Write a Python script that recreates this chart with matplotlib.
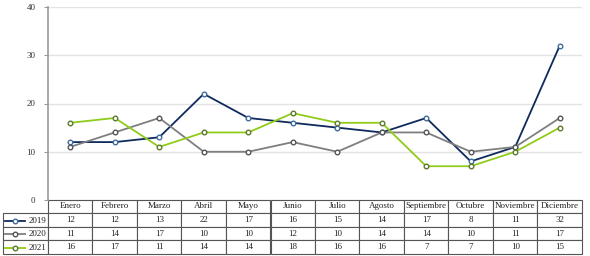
import matplotlib
matplotlib.use("Agg")
import matplotlib.pyplot as plt
from matplotlib.lines import Line2D

months = ["Enero", "Febrero", "Marzo", "Abril", "Mayo", "Junio", "Julio",
          "Agosto", "Septiembre", "Octubre", "Noviembre", "Diciembre"]
years = ["2019", "2020", "2021"]
v2019 = [12, 12, 13, 22, 17, 16, 15, 14, 17, 8, 11, 32]
v2020 = [11, 14, 17, 10, 10, 12, 10, 14, 14, 10, 11, 17]
v2021 = [16, 17, 11, 14, 14, 18, 16, 16, 7, 7, 10, 15]
series = [v2019, v2020, v2021]
colors = ["#0f2a5c", "#7f7f7f", "#8fcc1a"]
edges = ["#3f6b9c", "#555555", "#5d7a2c"]
yticks = [0, 10, 20, 30, 40]

plt.rcParams['font.family'] = ['Liberation Serif', 'DejaVu Serif']

W, H = 590, 256
fig = plt.figure(figsize=(W / 100, H / 100), dpi=100)
L, R, T, B = 48, 582, 7, 200
ax = fig.add_axes([L / W, 1 - B / H, (R - L) / W, (B - T) / H])

x = list(range(len(months)))
for vals, c, e in zip(series, colors, edges):
    ax.plot(x, vals, color=c, lw=1.3, marker='o', ms=3.3, mfc='white',
            mec=e, mew=1.0, zorder=3)

ax.set_xlim(-0.5, len(months) - 0.5)
ax.set_ylim(0, 40)
ax.set_yticks(yticks)
ax.set_xticks([])
ax.grid(axis='y', color='#e3e3e3', lw=1)
ax.set_axisbelow(True)
for s in ['top', 'right', 'bottom']:
    ax.spines[s].set_visible(False)
ax.spines['left'].set_color('#9a9a9a')
ax.spines['left'].set_linewidth(1.2)
ax.tick_params(axis='y', labelsize=6.5, colors='#9a9a9a', labelcolor='#333333',
               length=3, width=0.8, pad=6)

# table
axh = B - T
axw = R - L
tb_top = 200 - 0.5
tb_bot = 254
lab_left = 3
colw = 1.0 / len(months)
cell = [[str(v) for v in vals] for vals in series]
tbl = ax.table(cellText=cell, colLabels=months,
               colWidths=[colw] * len(months),
               cellLoc='center',
               bbox=[0, (B - tb_bot) / axh, 1, (tb_bot - tb_top) / axh])
hgt = tbl[1, 0].get_height()
for i in range(len(years)):
    tbl.add_cell(i + 1, -1, width=colw * (L - lab_left) / (axw / len(months)),
                 height=hgt, text="")
tbl.auto_set_font_size(False)
tbl.set_fontsize(6.5)
for (r, c), cobj in tbl.get_celld().items():
    cobj.set_edgecolor('#555555')
    cobj.set_linewidth(0.8)
    cobj.get_text().set_color('#222222')

# legend glyphs in row-label cells
for i, (yr, c, e) in enumerate(zip(years, colors, edges)):
    yc = (B - (214 + 13.4 * i + 6.7)) / axh
    x0 = (5 - L) / axw
    x1 = (25 - L) / axw
    ax.add_line(Line2D([x0, x1], [yc, yc], transform=ax.transAxes, color=c,
                       lw=1.3, clip_on=False, zorder=5))
    ax.add_line(Line2D([(x0 + x1) / 2], [yc], transform=ax.transAxes, color=c,
                       marker='o', ms=3.3, mfc='white', mec=e, mew=1.0,
                       clip_on=False, zorder=6))
    ax.text((46 - L) / axw, yc, yr, transform=ax.transAxes, ha='right',
            va='center', fontsize=6.5, color='#222222', zorder=6)

fig.savefig("out.png", dpi=100)
